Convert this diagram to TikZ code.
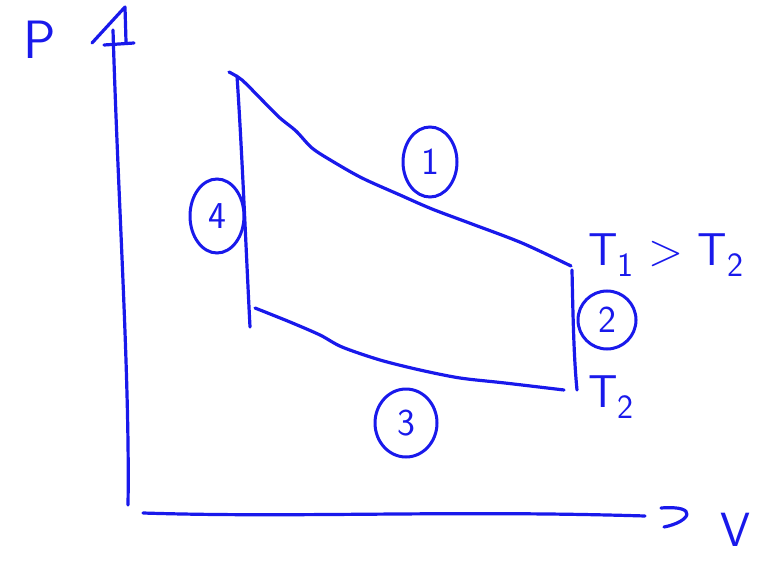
\documentclass[tikz,border=0pt]{standalone}
\usetikzlibrary{shapes.geometric}
\definecolor{ink}{RGB}{25,25,235}
\newcommand{\sbs}[1]{\raisebox{-11pt}{\fontsize{34}{34}\selectfont #1}}
\tikzset{
  pen/.style={draw=ink,line width=3.2pt,line cap=round,line join=round},
  lbl/.style={text=ink,font=\sffamily\fontsize{46}{46}\selectfont,inner sep=0pt},
  num/.style={ellipse,draw=ink,line width=3pt,text=ink,font=\sffamily\fontsize{38}{38}\selectfont,inner sep=0pt}
}
\begin{document}
\begin{tikzpicture}[x=1pt,y=-1pt]
\useasboundingbox (0,0) rectangle (762,561);
% axes
\coordinate (ytop) at (113,30);
\coordinate (ybot) at (128,505);
\coordinate (xl) at (143,513);
\coordinate (xr) at (645,516);
\draw[pen] (ytop) .. controls (118,200) and (130,380) .. (ybot);
\draw[pen] (92,43) -- (125,7) -- (126,42) (104,45) -- (134,43);
\draw[pen] (xl) .. controls (300,518) and (450,510) .. (xr);
\draw[pen] (661,508) .. controls (700,505) and (690,522) .. (664,527);
\node[lbl,font=\sffamily\fontsize{54}{54}\selectfont] (P) at (40,40) {P};
\node[lbl,font=\sffamily\fontsize{48}{48}\selectfont] (V) at (735,530) {V};
% cycle corners
\coordinate (c1) at (229,72);
\coordinate (c1v) at (237,76);
\coordinate (c2) at (571,266);
\coordinate (c2v) at (572,270);
\coordinate (c3) at (577,390);
\coordinate (c3h) at (564,390);
\coordinate (c4) at (250,327);
\coordinate (c4h) at (255,308);
\draw[pen] plot[smooth,tension=0.5] coordinates {(c1) (242,80) (262,100) (280,118) (296,131) (312,148) (332,161) (362,178) (400,195) (432,209) (472,224) (522,243) (c2)};
\draw[pen] (c2v) .. controls (573,320) and (574,360) .. (c3);
\draw[pen] plot[smooth,tension=0.5] coordinates {(c4h) (290,322) (320,335) (342,347) (380,360) (420,370) (460,378) (505,383) (c3h)};
\draw[pen] (c1v) .. controls (242,150) and (246,250) .. (c4);
% labels
\node[num,minimum width=54pt,minimum height=70pt] (n1) at (430,162) {1};
\node[num,minimum width=54pt,minimum height=74pt] (n4) at (217,216) {4};
\node[num,minimum width=58pt,minimum height=58pt] (n2) at (607,320) {2};
\node[num,minimum width=62pt,minimum height=68pt] (n3) at (406,423) {3};
\node[lbl,anchor=west] (t12) at (588,255) {T\sbs{1} > T\sbs{2}};
\node[lbl,anchor=west] (t2) at (588,397) {T\sbs{2}};
\end{tikzpicture}
\end{document}
